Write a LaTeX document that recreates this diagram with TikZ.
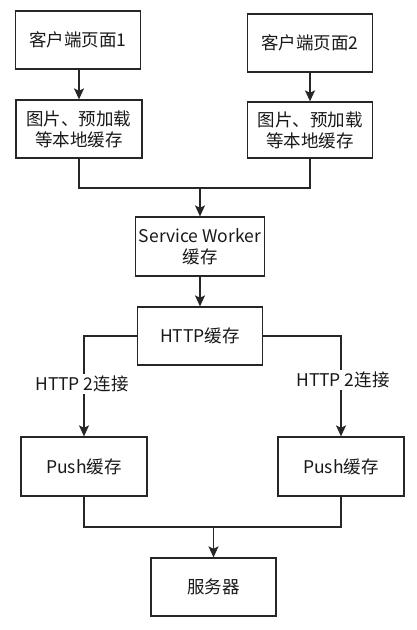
\documentclass[tikz,border=0pt]{standalone}
\usepackage{fontspec}
\setmainfont{Noto Sans CJK SC}
\usetikzlibrary{arrows.meta}
\tikzset{
	box/.style={draw=black!85, line width=1.3pt, minimum width=125pt, minimum height=58pt, align=center, text=black!90, font=\fontsize{17.5}{21}\selectfont},
	link/.style={draw=black!85, line width=1.3pt},
	tip/.style={-{Stealth[length=11pt,width=10pt,inset=2.5pt]}},
	tag/.style={fill=white, text=black!90, inner sep=2pt, font=\fontsize{17.5}{21}\selectfont}
}
\begin{document}
\begin{tikzpicture}[x=1pt, y=-1pt]
			%%%%% START %%%%%
			\useasboundingbox[fill=white] (0, 0) rectangle (417, 630);
			
			\node[box] (page1) at (78, 40) {客户端页面1};
			\node[box] (page2) at (310, 43) {客户端页面2};
			\node[box, minimum width=126pt] (local1) at (79, 129) {图片、预加载\\等本地缓存};
			\node[box, minimum height=56pt] (local2) at (310, 130) {图片、预加载\\等本地缓存};
			\node[box, minimum height=59pt] (sw) at (200, 246.5) {Service Worker\\缓存};
			\node[box] (http) at (200, 336) {HTTP缓存};
			\node[box, minimum width=126pt, minimum height=59pt] (push1) at (84, 466.5) {Push缓存};
			\node[box, minimum width=126pt, minimum height=59pt] (push2) at (341, 466.5) {Push缓存};
			\node[box] (server) at (213.5, 587) {服务器};
			
			\coordinate (join1) at (200, 188);
			\coordinate (join2) at (213.5, 527);
			
			\draw[link, tip] (page1.south -| local1) -- (local1);
			\draw[link, tip] (page2.south -| local2) -- (local2);
			\draw[link] (local1.south) |- (join1);
			\draw[link] (local2.south) |- (join1);
			\draw[link, tip] (join1) -- (sw.north);
			\draw[link, tip] (sw) -- (http);
			
			\draw[link, tip] (http.west) -| (push1.north);
			\draw[link, tip] (http.east) -| (push2.north);
			\node[tag] (h2left) at (82, 384) {HTTP 2连接};
			\node[tag] (h2right) at (343, 380) {HTTP 2连接};
			
			\draw[link] (push1.south) |- (join2);
			\draw[link] (push2.south) |- (join2);
			\draw[link, tip] (join2) -- (server.north);
			%%%%% END %%%%%
\end{tikzpicture}
\end{document}
